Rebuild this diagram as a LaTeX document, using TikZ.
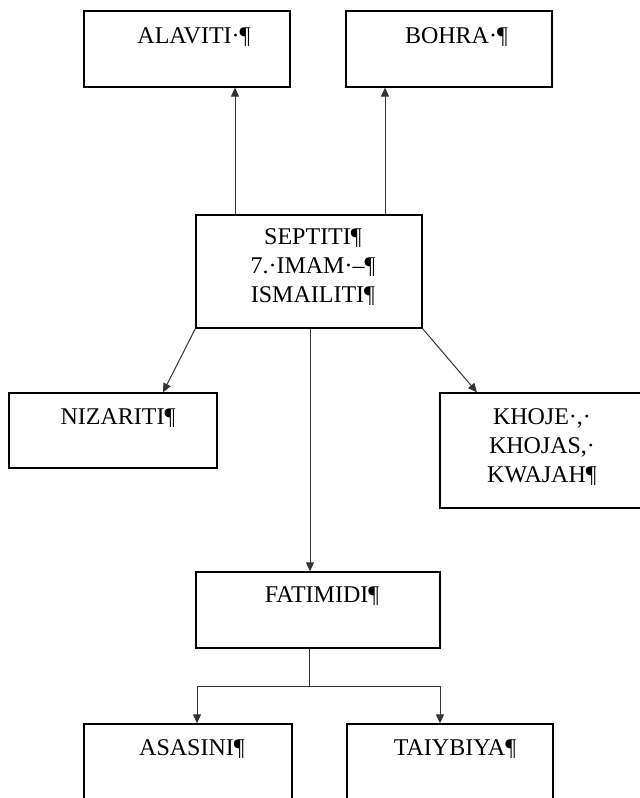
\documentclass[tikz,border=0pt]{standalone}
\usepackage{fontspec}
\setmainfont{Liberation Serif}
\usetikzlibrary{arrows.meta}
\begin{document}
\begin{tikzpicture}[x=1pt,y=-1pt,
  box/.style={draw=black,line width=1.3pt,inner sep=0pt,minimum width=#1},
  lbl/.style={inner sep=0pt,anchor=base,align=center,font=\fontsize{24}{29}\selectfont},
  conn/.style={draw=black!80,line width=1pt},
  arr/.style={conn,-{Triangle[length=9pt,width=8pt]}}]
\useasboundingbox (0,0) rectangle (640,798);
\clip (0,0) rectangle (640,798);
% boxes
\node[box=206,minimum height=76] (alaviti) at (187,49) {};
\node[box=206,minimum height=76] (bohra) at (449,49) {};
\node[box=226,minimum height=113] (septiti) at (309,271.5) {};
\node[box=208,minimum height=75] (nizariti) at (113,430.5) {};
\node[box=220,minimum height=115] (khoje) at (550,450.5) {};
\node[box=244,minimum height=76] (fatimidi) at (318,610) {};
\node[box=208,minimum height=90] (asasini) at (188,769) {};
\node[box=206,minimum height=90] (taiybiya) at (450,769) {};
% texts (anchor = baseline of last line)
\node[lbl] (talaviti) at (194,43) {ALAVITI·¶};
\node[lbl] (tbohra) at (456.5,43) {BOHRA·¶};
\node[lbl] (tseptiti) at (313,302) {SEPTITI¶\\7.·IMAM·–¶\\ISMAILITI¶};
\node[lbl] (tnizariti) at (118,424) {NIZARITI¶};
\node[lbl] (tkhoje) at (542,482) {KHOJE·,·\\KHOJAS,·\\KWAJAH¶};
\node[lbl] (tfatimidi) at (322,602) {FATIMIDI¶};
\node[lbl] (tasasini) at (192,755) {ASASINI¶};
\node[lbl] (ttaiybiya) at (455,755) {TAIYBIYA¶};
% coordinates
\coordinate (xa) at (235,0);
\coordinate (xb) at (385,0);
\coordinate (xn) at (163,0);
\coordinate (xk) at (477,0);
\coordinate (xf) at (310,0);
\coordinate (fork) at (309,686);
\coordinate (xl) at (197,0);
\coordinate (xr) at (440,0);
% connectors
\draw[arr] (septiti.north -| xa) -- (alaviti.south -| xa);
\draw[arr] (septiti.north -| xb) -- (bohra.south -| xb);
\draw[arr] (septiti.south west) -- (nizariti.north -| xn);
\draw[arr] (septiti.south east) -- (khoje.north -| xk);
\draw[arr] (septiti.south -| xf) -- (fatimidi.north -| xf);
\draw[conn] (fatimidi.south -| fork) -- (fork);
\draw[arr] (fork) -| (asasini.north -| xl);
\draw[arr] (fork) -| (taiybiya.north -| xr);
\end{tikzpicture}
\end{document}
